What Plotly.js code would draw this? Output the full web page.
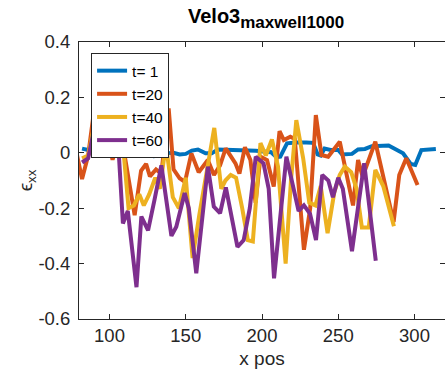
<!DOCTYPE html>
<html>
<head>
<meta charset="utf-8">
<script src="https://cdn.plot.ly/plotly-3.0.1.min.js"></script>
<style>
  html, body { margin: 0; padding: 0; background: #ffffff; overflow: hidden; }
  #chart { width: 445px; height: 377px; }
</style>
</head>
<body>
<div id="chart"></div>
<script>
// Strain component along the profile at four time steps
const seriesNames = ['t= 1', 't=20', 't=40', 't=60'];
const seriesColors = ['#0072BD', '#D95319', '#EDB120', '#7E2F8E'];

const t1X = [82, 86, 100, 110, 120, 126, 129, 133, 137, 142, 146, 150, 154, 158, 163, 167, 171, 176, 186, 196, 203, 206, 209.5, 212, 216.4, 222, 229, 233.5, 236.5, 238.5, 241, 245, 250, 252.5, 259, 263, 267.5, 272, 283, 288, 292.5, 297.5, 300.5, 304.5, 310, 314];
const t1Y = [0.015, 0.01, 0.01, 0.008, 0.006, 0.002, -0.012, -0.01, -0.002, 0.0, -0.006, -0.004, 0.008, 0.012, -0.002, -0.002, 0.012, 0.01, 0.009, 0.007, 0.005, 0.002, -0.016, -0.014, 0.034, 0.037, 0.037, 0.036, -0.006, -0.01, 0.015, 0.01, 0.01, -0.006, -0.004, 0.012, 0.014, 0.024, 0.026, 0.01, -0.002, -0.04, -0.044, 0.01, 0.012, 0.014];

const t20X = [78, 82, 86, 91, 97, 102, 107.5, 116.5, 120.7, 124, 126.5, 130.5, 134, 138.8, 142, 146, 149.5, 153.7, 158.5, 164.5, 168.5, 172.5, 176.2, 182.6, 185.2, 188.8, 192.4, 195.8, 199, 203.3, 207.7, 211.5, 214.3, 218.6, 221.5, 227.5, 231.6, 235.3, 239, 243.4, 251, 255, 259.7, 263, 266, 274.3, 279.3, 283.5, 286.3, 290, 294.6, 302];
const t20Y = [0.01, -0.095, -0.01, 0.2, 0.1, -0.025, 0.07, -0.225, -0.065, -0.04, -0.085, -0.06, -0.075, 0.16, -0.06, -0.092, -0.105, -0.002, -0.07, -0.026, -0.08, -0.045, 0.016, -0.038, -0.075, 0.02, -0.026, -0.18, -0.014, -0.026, -0.122, 0.078, 0.046, 0.058, 0.05, -0.35, -0.2, 0.136, -0.008, -0.014, 0.04, -0.06, -0.19, -0.026, -0.086, 0.04, -0.086, -0.195, -0.25, -0.08, -0.02, -0.116];

const t40X = [82, 86, 90, 108, 112.5, 116, 119.5, 122.5, 126, 130, 133, 137, 141.5, 145.5, 150, 154.5, 159, 163.5, 168.7, 173.3, 176, 179.5, 183, 187, 190.7, 194, 199, 202.5, 206.5, 210.5, 215.5, 219, 222.5, 227, 231, 235, 238.5, 243, 247.5, 251, 254.3, 258.5, 262, 265.5, 270, 274.3, 279.5, 286.5];
const t40Y = [-0.02, -0.01, 0.1, 0.08, -0.2, -0.19, -0.15, -0.19, -0.15, -0.09, -0.13, 0.03, -0.16, -0.2, -0.09, -0.38, -0.22, -0.07, 0.09, -0.13, -0.1, -0.08, -0.09, -0.2, -0.315, -0.32, 0.035, -0.01, 0.048, -0.05, -0.4, -0.1, 0.118, -0.02, -0.18, -0.19, -0.12, -0.29, -0.14, -0.08, -0.05, -0.07, -0.13, -0.27, -0.27, -0.062, -0.12, -0.265];

const t60X = [82, 86, 90.5, 100, 105, 108.8, 112, 117.7, 120.9, 123.1, 125.3, 129.5, 134, 140.6, 143.8, 149.3, 152, 156.9, 164.5, 168.4, 172.5, 176.3, 183.9, 188, 192, 195.9, 201, 204.4, 207.9, 216, 220.5, 224, 227.5, 231.5, 235.4, 239.5, 243.5, 246.5, 250, 253, 259, 267, 274.6];
const t60Y = [-0.035, -0.02, 0.1, 0.15, 0.1, -0.255, -0.21, -0.485, -0.23, -0.254, -0.28, -0.17, -0.045, -0.3, -0.267, -0.145, -0.2, -0.435, -0.05, -0.194, -0.218, -0.125, -0.34, -0.315, -0.2, -0.014, -0.038, -0.13, -0.453, -0.014, -0.12, -0.21, -0.19, -0.22, -0.315, -0.08, -0.1, -0.16, -0.09, -0.13, -0.355, -0.038, -0.39];

const xTickVals = [100, 150, 200, 250, 300];
const yTickVals = [-0.6, -0.4, -0.2, 0, 0.2, 0.4];
const yTickText = ['-0.6', '-0.4', '-0.2', '0', '0.2', '0.4'];

const xs = [t1X, t20X, t40X, t60X];
const ys = [t1Y, t20Y, t40Y, t60Y];

const traces = seriesNames.map((name, i) => ({
  type: 'scatter',
  mode: 'lines',
  name: name,
  x: xs[i],
  y: ys[i],
  line: { color: seriesColors[i], width: 4 },
  hoverinfo: 'skip'
}));

const axisColor = '#262626';
const fontFamily = '"Liberation Sans", Arial, Helvetica, sans-serif';

const layout = {
  width: 445,
  height: 377,
  margin: { l: 79, r: 0, t: 42, b: 58, pad: 0 },
  paper_bgcolor: '#ffffff',
  plot_bgcolor: '#ffffff',
  font: { family: fontFamily, color: axisColor, size: 18 },
  showlegend: true,
  title: {
    text: '<b>Velo3<sub><span style="font-size:17px">maxwell1000</span></sub></b>',
    font: { family: fontFamily, size: 20, color: '#000000' },
    xref: 'container',
    x: 0.598,
    xanchor: 'center',
    yref: 'container',
    y: 0.975,
    yanchor: 'top'
  },
  xaxis: {
    range: [80, 320],
    tickmode: 'array',
    tickvals: xTickVals,
    ticks: 'inside',
    ticklen: 5,
    tickwidth: 1,
    tickcolor: axisColor,
    showline: true,
    linecolor: axisColor,
    linewidth: 1,
    mirror: 'ticks',
    showgrid: false,
    zeroline: false,
    tickfont: { family: fontFamily, size: 18.5, color: axisColor },
    title: { text: 'x pos', font: { family: fontFamily, size: 19, color: axisColor }, standoff: 6 }
  },
  yaxis: {
    range: [-0.6, 0.4],
    tickmode: 'array',
    tickvals: yTickVals,
    ticktext: yTickText,
    ticks: 'inside',
    ticklen: 5,
    tickwidth: 1,
    tickcolor: axisColor,
    showline: true,
    linecolor: axisColor,
    linewidth: 1,
    mirror: 'ticks',
    showgrid: false,
    zeroline: false,
    ticklabelstandoff: 4,
    tickfont: { family: fontFamily, size: 18.5, color: axisColor },
    title: { text: 'ϵ<sub>xx</sub>', font: { family: fontFamily, size: 19, color: axisColor }, standoff: 0 }
  },
  legend: {
    x: 0.033,
    y: 0.96,
    xanchor: 'left',
    yanchor: 'top',
    bgcolor: '#ffffff',
    bordercolor: axisColor,
    borderwidth: 1,
    font: { family: fontFamily, size: 15.5, color: '#000000' },
    itemwidth: 30,
    tracegroupgap: 0
  }
};

Plotly.newPlot('chart', traces, layout, { staticPlot: true, displayModeBar: false });
</script>
</body>
</html>
